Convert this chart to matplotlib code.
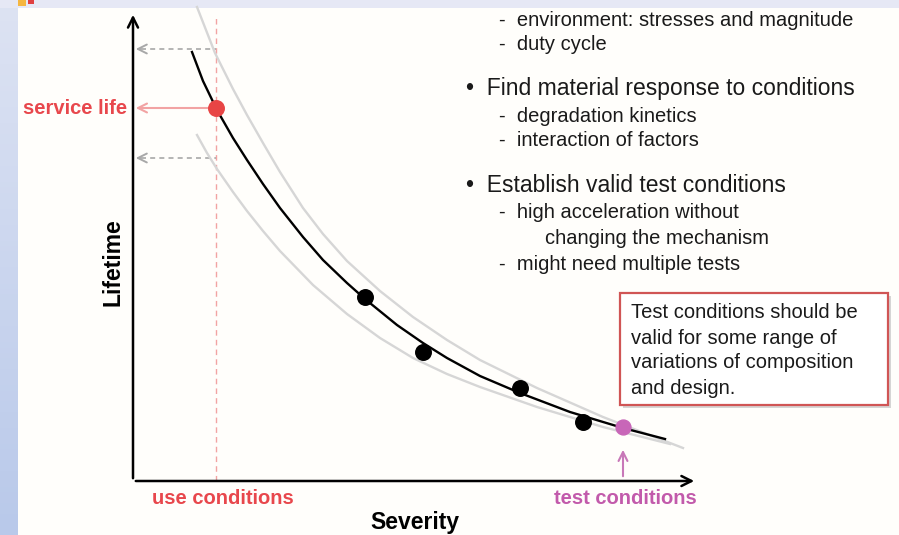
import numpy as np
import matplotlib
matplotlib.use("Agg")
import matplotlib.pyplot as plt
from matplotlib.patches import Rectangle

plt.rcParams['font.family'] = ['Liberation Sans', 'DejaVu Sans']

# Curves (severity, lifetime) in arbitrary units
fit_sev = [59, 70, 84, 100, 114, 130, 147, 170, 190, 214, 232, 264, 290, 314, 347, 387, 437, 490, 532]
fit_life = [429, 400, 371, 343, 321, 297, 273, 244, 221, 198, 182, 156, 138, 123, 105, 88, 69, 53, 42]

upper_sev = [64, 82, 100, 114, 130, 147, 170, 190, 214, 247, 280, 314, 347, 404, 470, 550]
upper_life = [474, 428, 392, 366, 338, 309, 273, 247, 220, 190, 164, 141, 121, 93, 64, 33]

lower_sev = [64, 74, 84, 100, 114, 130, 147, 180, 214, 247, 280, 314, 347, 404, 470, 537]
lower_life = [346, 328, 312, 289, 270, 250, 230, 196, 167, 143, 123, 107, 94, 74, 54, 37]

# Test results
test_sev = [232, 290, 387, 450]
test_life = [184, 129, 93, 59]

use_sev = 83
service_life = 373
life_hi, life_lo = 432, 323
test_cond_sev, test_cond_life = 490, 54

red = '#e8474c'
light_red = '#f2a3a3'
magenta = '#c25aab'

bullets = [
    (0, '-  environment: stresses and magnitude'),
    (0, '-  duty cycle'),
    (1, '\u2022  Find material response to conditions'),
    (0, '-  degradation kinetics'),
    (0, '-  interaction of factors'),
    (1, '\u2022  Establish valid test conditions'),
    (0, '-  high acceleration without'),
    (2, 'changing the mechanism'),
    (0, '-  might need multiple tests'),
]
bullet_y = [20, 45, 88, 116, 141, 186, 213, 238, 264]
box_lines = ['Test conditions should be', 'valid for some range of',
             'variations of composition', 'and design.']

fig = plt.figure(figsize=(8.99, 5.35), dpi=100)
fig.patch.set_facecolor('#fffefb')

# background strips
bg = fig.add_axes([0, 0, 1, 1])
bg.axis('off')
grad = np.linspace(0, 1, 100).reshape(-1, 1)
bg.imshow(grad, extent=[0, 18, 535, 0], aspect='auto',
          cmap=matplotlib.colors.LinearSegmentedColormap.from_list('b', ['#dde3f3', '#b9c9ea']))
bg.add_patch(Rectangle((0, 0), 899, 8, color='#e6e8f5', lw=0))
bg.add_patch(Rectangle((18, 0), 8, 6, color='#f5b640', lw=0))
bg.add_patch(Rectangle((28, 0), 6, 4, color='#e04040', lw=0))
bg.set_xlim(0, 899)
bg.set_ylim(535, 0)

ax = fig.add_axes([133 / 899, 54 / 535, 564 / 899, 469 / 535])
ax.set_xlim(0, 564)
ax.set_ylim(0, 469)
ax.axis('off')

# axes with arrows
ax.annotate('', xy=(0, 469), xytext=(0, 0),
            arrowprops=dict(arrowstyle='->', color='black', lw=1.8, mutation_scale=18))
ax.annotate('', xy=(564, 0), xytext=(0, 0),
            arrowprops=dict(arrowstyle='->', color='black', lw=1.8, mutation_scale=18))

# use conditions marker line
ax.plot([use_sev, use_sev], [0, 463], color=light_red, lw=1, ls=(0, (4, 3)))

# projection arrows
for ly in [life_hi, life_lo]:
    ax.plot([8, use_sev], [ly, ly], color='#a8a8a8', lw=1.2, ls=(0, (3, 2.5)))
    ax.annotate('', xy=(0, ly), xytext=(10, ly),
                arrowprops=dict(arrowstyle='->', color='#a8a8a8', lw=1.4, mutation_scale=16))
ax.annotate('', xy=(0, service_life), xytext=(use_sev, service_life),
            arrowprops=dict(arrowstyle='->', color=light_red, lw=1.5, mutation_scale=16))

# curves
ax.plot(upper_sev, upper_life, color='#d6d6d6', lw=1.7, clip_on=False)
ax.plot(lower_sev, lower_life, color='#d6d6d6', lw=1.7, clip_on=False)
ax.plot(fit_sev, fit_life, color='black', lw=1.7, clip_on=False)

ax.scatter(test_sev, test_life, s=125, color='black', zorder=5)
ax.scatter([use_sev], [service_life], s=125, color='#e84545', zorder=5)
ax.scatter([test_cond_sev], [test_cond_life], s=115, color='#c866b8', zorder=5)

ax.annotate('', xy=(test_cond_sev, 34), xytext=(test_cond_sev, 2),
            arrowprops=dict(arrowstyle='->', color='#c878b8', lw=1.5, mutation_scale=16))

# labels
ax.text(-6, service_life, 'service life', color=red, fontsize=14.5, fontweight='bold',
        ha='right', va='center', clip_on=False)
ax.text(90, -17, 'use conditions', color=red, fontsize=14.5, fontweight='bold',
        ha='center', va='center', clip_on=False)
ax.text(492, -17, 'test conditions', color=magenta, fontsize=14.5, fontweight='bold',
        ha='center', va='center', clip_on=False)
ax.text(282, -41, 'Severity', color='black', fontsize=16.5, fontweight='bold',
        ha='center', va='center', clip_on=False)
ax.text(-20, 219, 'Lifetime', color='black', fontsize=16.5, fontweight='bold',
        ha='center', va='center', rotation=90, clip_on=False)

# bullet text
x_pos = {0: 499, 1: 466, 2: 545}
for (lvl, txt), y in zip(bullets, bullet_y):
    fs = 16.5 if lvl == 1 else 14.5
    ax.text(x_pos[lvl] - 133, 481 - y, txt, fontsize=fs, color='#1a1a1a',
            ha='left', va='center', clip_on=False)

# note box with shadow
ax.add_patch(Rectangle((490, 73), 268, 112, facecolor='#bbbbbb', edgecolor='none',
                       alpha=0.6, clip_on=False, zorder=2))
ax.add_patch(Rectangle((487, 76), 268, 112, facecolor='white', edgecolor='#d05555',
                       lw=1.6, clip_on=False, zorder=3))
for i, line in enumerate(box_lines):
    ax.text(498, 168 - i * 25, line, fontsize=14.5, color='#1a1a1a',
            ha='left', va='center', clip_on=False, zorder=4)

fig.savefig('out.png', dpi=100, facecolor=fig.get_facecolor())
